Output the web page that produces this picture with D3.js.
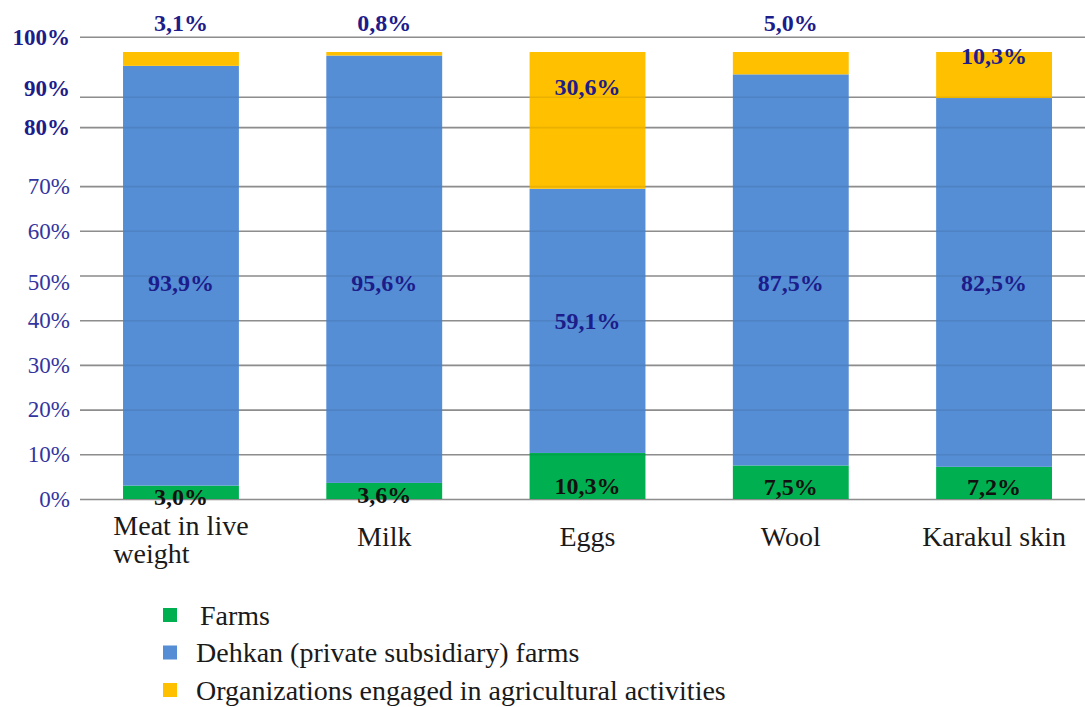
<!DOCTYPE html>
<html>
<head>
<meta charset="utf-8">
<script src="https://cdn.jsdelivr.net/npm/d3@7"></script>
<style>
body{margin:0;background:#fff}
svg text{font-family:"Liberation Serif","Times New Roman",serif}
</style>
</head>
<body>
<svg id="chart"></svg>
<script>
const categories = ["Meat in live weight", "Milk", "Eggs", "Wool", "Karakul skin"];
const farms = [3.0, 3.6, 10.3, 7.5, 7.2];
const dehkan = [93.9, 95.6, 59.1, 87.5, 82.5];
const organizations = [3.1, 0.8, 30.6, 5.0, 10.3];
const seriesNames = ["Farms", "Dehkan (private subsidiary) farms", "Organizations engaged in agricultural activities"];
const tickLabels = ["0%", "10%", "20%", "30%", "40%", "50%", "60%", "70%", "80%", "90%", "100%"];
const gridValues = [0, 10, 20, 30, 40, 50, 60, 70, 83.2, 90, 103.4];
const tickLabelValues = [0, 10, 20, 30, 40, 48.5, 60, 70, 83.2, 92, 103.4];

const width = 1085, height = 707;
const plotLeft = 80, plotRight = 1085;
const colors = ["#00B050", "#558ED5", "#FFC000"];
const navy = "#1c1c8a";

const svg = d3.select("#chart")
  .attr("width", width)
  .attr("height", height)
  .style("background", "#fff");

const rows = categories.map((c, i) => ({
  category: c, farms: farms[i], dehkan: dehkan[i], organizations: organizations[i]
}));
const keys = ["farms", "dehkan", "organizations"];
const stacked = d3.stack().keys(keys)(rows);

const x = d3.scaleBand()
  .domain(categories)
  .range([plotLeft, plotRight])
  .paddingInner(0.43)
  .paddingOuter(0.187)
  .align(0.566);

const y = d3.scaleLinear()
  .domain([0, 100])
  .range([499, 52]);

// grid lines
svg.append("g")
  .attr("transform", `translate(${plotLeft},0)`)
  .call(d3.axisLeft(y).tickValues(gridValues).tickSize(-(plotRight - plotLeft)).tickFormat(""))
  .call(g => g.select(".domain").remove())
  .call(g => g.selectAll("line").attr("stroke", "#999").attr("stroke-width", 1.6));

// tick labels
svg.append("g")
  .attr("transform", `translate(${plotLeft},0)`)
  .call(d3.axisLeft(y).tickValues(tickLabelValues).tickSize(0).tickPadding(10)
    .tickFormat((d, i) => tickLabels[i]))
  .call(g => g.select(".domain").remove())
  .call(g => g.selectAll("text")
    .attr("font-family", "Liberation Serif")
    .attr("font-size", "23px")
    .attr("font-weight", (d, i) => i >= 8 ? "bold" : "normal")
    .attr("fill", (d, i) => i >= 8 ? navy : "#3434a0"));

// bars
const layer = svg.append("g").selectAll("g")
  .data(stacked)
  .join("g")
  .attr("fill", (d, i) => colors[i]);

layer.selectAll("rect")
  .data(d => d)
  .join("rect")
  .attr("x", d => x(d.data.category))
  .attr("y", d => y(d[1]))
  .attr("height", d => y(d[0]) - y(d[1]))
  .attr("width", x.bandwidth());

// faint grid showing through the bars
svg.append("g")
  .attr("transform", `translate(${plotLeft},0)`)
  .call(d3.axisLeft(y).tickValues(gridValues).tickSize(-(plotRight - plotLeft)).tickFormat(""))
  .call(g => g.select(".domain").remove())
  .call(g => g.selectAll("line").attr("stroke", "#000").attr("stroke-opacity", 0.08).attr("stroke-width", 1.6));

const fmt = v => d3.format(".1f")(v).replace(".", ",") + "%";

function labelY(d, k) {
  const top = y(d[1]), bottom = y(d[0]);
  const h = bottom - top, v = d[1] - d[0];
  if (k === 0) return Math.max((top + bottom) / 2 + 4, bottom - 13);
  if (k === 1) return Math.max((top + bottom) / 2, y(48.5));
  if (v < 6) return y(100) - 29;
  return top + (v > 20 ? h * 0.25 : 4);
}

stacked.forEach((s, k) => {
  svg.append("g").selectAll("text")
    .data(s)
    .join("text")
    .attr("x", d => x(d.data.category) + x.bandwidth() / 2)
    .attr("y", d => labelY(d, k))
    .attr("dy", "0.35em")
    .attr("text-anchor", "middle")
    .attr("font-size", "24px")
    .attr("font-weight", "bold")
    .attr("fill", k === 0 ? "#111" : navy)
    .text(d => fmt(d[1] - d[0]));
});

// category labels, wrapped like the original
function wrapWords(text, maxW, probe) {
  const words = text.split(" ");
  const lines = [];
  let line = "";
  words.forEach(w => {
    const test = line ? line + " " + w : w;
    probe.text(test);
    if (probe.node().getComputedTextLength() > maxW && line) {
      lines.push(line);
      line = w;
    } else line = test;
  });
  lines.push(line);
  return lines;
}

const catFont = 28;
const probe = svg.append("text").attr("font-size", catFont + "px").attr("visibility", "hidden");
categories.forEach(c => {
  const lines = wrapWords(c, 155, probe);
  probe.text(lines[0]);
  const w0 = probe.node().getComputedTextLength();
  const left = x(c) + x.bandwidth() / 2 - w0 / 2;
  const base = 546 - (lines.length - 1) * 11;
  const t = svg.append("text")
    .attr("font-size", catFont + "px")
    .attr("fill", "#1a1a1a");
  lines.forEach((l, i) => {
    t.append("tspan").attr("x", left).attr("y", base + i * 28).text(l);
  });
});
probe.remove();

// legend
const legend = svg.append("g").selectAll("g")
  .data(seriesNames)
  .join("g")
  .attr("transform", (d, i) => `translate(163,${615 + i * 37.5})`);

legend.append("rect")
  .attr("y", -7)
  .attr("width", 14)
  .attr("height", 14)
  .attr("fill", (d, i) => colors[i]);

legend.append("text")
  .attr("x", (d, i) => i === 0 ? 37 : 33)
  .attr("dy", "0.35em")
  .attr("font-size", "28px")
  .attr("fill", "#1a1a1a")
  .text(d => d);
</script>
</body>
</html>
